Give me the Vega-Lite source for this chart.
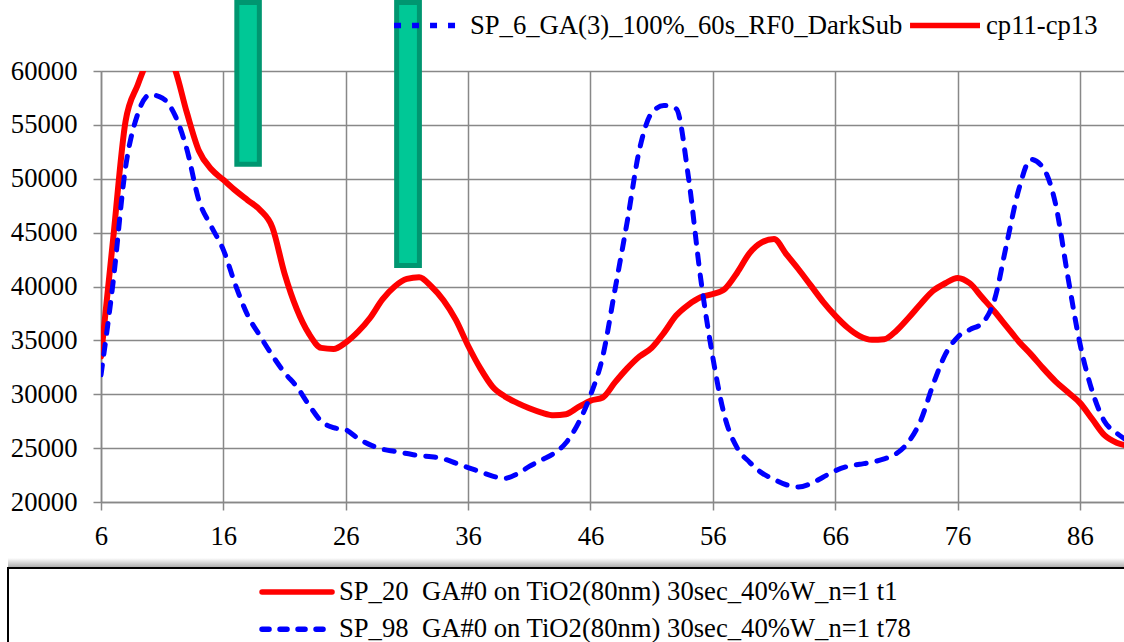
{
  "$schema": "https://vega.github.io/schema/vega-lite/v6.json",
  "padding": {"left": 7, "top": 0, "right": 0, "bottom": 0},
  "background": "white",
  "config": {
    "font": "Liberation Serif",
    "view": {"stroke": null},
    "axis": {
      "labelFont": "Liberation Serif",
      "labelFontSize": 26.67,
      "labelColor": "#000000",
      "gridColor": "#888888",
      "gridWidth": 1.5,
      "gridOpacity": 1,
      "domainColor": "#888888",
      "domainWidth": 1.5,
      "tickColor": "#888888",
      "tickWidth": 1.5,
      "tickSize": 8,
      "labelFlush": false,
      "labelOverlap": false,
      "title": null
    },
    "legend": {
      "labelFont": "Liberation Serif",
      "labelFontSize": 26.67,
      "labelColor": "#000000",
      "labelLimit": 1200
    }
  },
  "datasets": {
    "red": [
      {"x": 6, "y": 33500, "series": "SP_20\u00a0\u00a0GA#0 on TiO2(80nm) 30sec_40%W_n=1 t1"},
      {"x": 7, "y": 44500, "series": "SP_20\u00a0\u00a0GA#0 on TiO2(80nm) 30sec_40%W_n=1 t1"},
      {"x": 8, "y": 55300, "series": "SP_20\u00a0\u00a0GA#0 on TiO2(80nm) 30sec_40%W_n=1 t1"},
      {"x": 9, "y": 58700, "series": "SP_20\u00a0\u00a0GA#0 on TiO2(80nm) 30sec_40%W_n=1 t1"},
      {"x": 10, "y": 61300, "series": "SP_20\u00a0\u00a0GA#0 on TiO2(80nm) 30sec_40%W_n=1 t1"},
      {"x": 11, "y": 62000, "series": "SP_20\u00a0\u00a0GA#0 on TiO2(80nm) 30sec_40%W_n=1 t1"},
      {"x": 12, "y": 60300, "series": "SP_20\u00a0\u00a0GA#0 on TiO2(80nm) 30sec_40%W_n=1 t1"},
      {"x": 13, "y": 56200, "series": "SP_20\u00a0\u00a0GA#0 on TiO2(80nm) 30sec_40%W_n=1 t1"},
      {"x": 14, "y": 52600, "series": "SP_20\u00a0\u00a0GA#0 on TiO2(80nm) 30sec_40%W_n=1 t1"},
      {"x": 15, "y": 50900, "series": "SP_20\u00a0\u00a0GA#0 on TiO2(80nm) 30sec_40%W_n=1 t1"},
      {"x": 16, "y": 49900, "series": "SP_20\u00a0\u00a0GA#0 on TiO2(80nm) 30sec_40%W_n=1 t1"},
      {"x": 17, "y": 48900, "series": "SP_20\u00a0\u00a0GA#0 on TiO2(80nm) 30sec_40%W_n=1 t1"},
      {"x": 18, "y": 48000, "series": "SP_20\u00a0\u00a0GA#0 on TiO2(80nm) 30sec_40%W_n=1 t1"},
      {"x": 19, "y": 47100, "series": "SP_20\u00a0\u00a0GA#0 on TiO2(80nm) 30sec_40%W_n=1 t1"},
      {"x": 20, "y": 45500, "series": "SP_20\u00a0\u00a0GA#0 on TiO2(80nm) 30sec_40%W_n=1 t1"},
      {"x": 21, "y": 41200, "series": "SP_20\u00a0\u00a0GA#0 on TiO2(80nm) 30sec_40%W_n=1 t1"},
      {"x": 22, "y": 37900, "series": "SP_20\u00a0\u00a0GA#0 on TiO2(80nm) 30sec_40%W_n=1 t1"},
      {"x": 23, "y": 35600, "series": "SP_20\u00a0\u00a0GA#0 on TiO2(80nm) 30sec_40%W_n=1 t1"},
      {"x": 24, "y": 34300, "series": "SP_20\u00a0\u00a0GA#0 on TiO2(80nm) 30sec_40%W_n=1 t1"},
      {"x": 25, "y": 34200, "series": "SP_20\u00a0\u00a0GA#0 on TiO2(80nm) 30sec_40%W_n=1 t1"},
      {"x": 26, "y": 34800, "series": "SP_20\u00a0\u00a0GA#0 on TiO2(80nm) 30sec_40%W_n=1 t1"},
      {"x": 27, "y": 35800, "series": "SP_20\u00a0\u00a0GA#0 on TiO2(80nm) 30sec_40%W_n=1 t1"},
      {"x": 28, "y": 37100, "series": "SP_20\u00a0\u00a0GA#0 on TiO2(80nm) 30sec_40%W_n=1 t1"},
      {"x": 29, "y": 38800, "series": "SP_20\u00a0\u00a0GA#0 on TiO2(80nm) 30sec_40%W_n=1 t1"},
      {"x": 30, "y": 40000, "series": "SP_20\u00a0\u00a0GA#0 on TiO2(80nm) 30sec_40%W_n=1 t1"},
      {"x": 31, "y": 40700, "series": "SP_20\u00a0\u00a0GA#0 on TiO2(80nm) 30sec_40%W_n=1 t1"},
      {"x": 32, "y": 40850, "series": "SP_20\u00a0\u00a0GA#0 on TiO2(80nm) 30sec_40%W_n=1 t1"},
      {"x": 33, "y": 40000, "series": "SP_20\u00a0\u00a0GA#0 on TiO2(80nm) 30sec_40%W_n=1 t1"},
      {"x": 34, "y": 38700, "series": "SP_20\u00a0\u00a0GA#0 on TiO2(80nm) 30sec_40%W_n=1 t1"},
      {"x": 35, "y": 36900, "series": "SP_20\u00a0\u00a0GA#0 on TiO2(80nm) 30sec_40%W_n=1 t1"},
      {"x": 36, "y": 34500, "series": "SP_20\u00a0\u00a0GA#0 on TiO2(80nm) 30sec_40%W_n=1 t1"},
      {"x": 37, "y": 32400, "series": "SP_20\u00a0\u00a0GA#0 on TiO2(80nm) 30sec_40%W_n=1 t1"},
      {"x": 38, "y": 30700, "series": "SP_20\u00a0\u00a0GA#0 on TiO2(80nm) 30sec_40%W_n=1 t1"},
      {"x": 39, "y": 29800, "series": "SP_20\u00a0\u00a0GA#0 on TiO2(80nm) 30sec_40%W_n=1 t1"},
      {"x": 40, "y": 29200, "series": "SP_20\u00a0\u00a0GA#0 on TiO2(80nm) 30sec_40%W_n=1 t1"},
      {"x": 41, "y": 28700, "series": "SP_20\u00a0\u00a0GA#0 on TiO2(80nm) 30sec_40%W_n=1 t1"},
      {"x": 42, "y": 28300, "series": "SP_20\u00a0\u00a0GA#0 on TiO2(80nm) 30sec_40%W_n=1 t1"},
      {"x": 43, "y": 28050, "series": "SP_20\u00a0\u00a0GA#0 on TiO2(80nm) 30sec_40%W_n=1 t1"},
      {"x": 44, "y": 28150, "series": "SP_20\u00a0\u00a0GA#0 on TiO2(80nm) 30sec_40%W_n=1 t1"},
      {"x": 45, "y": 28800, "series": "SP_20\u00a0\u00a0GA#0 on TiO2(80nm) 30sec_40%W_n=1 t1"},
      {"x": 46, "y": 29400, "series": "SP_20\u00a0\u00a0GA#0 on TiO2(80nm) 30sec_40%W_n=1 t1"},
      {"x": 47, "y": 29700, "series": "SP_20\u00a0\u00a0GA#0 on TiO2(80nm) 30sec_40%W_n=1 t1"},
      {"x": 48, "y": 31100, "series": "SP_20\u00a0\u00a0GA#0 on TiO2(80nm) 30sec_40%W_n=1 t1"},
      {"x": 49, "y": 32400, "series": "SP_20\u00a0\u00a0GA#0 on TiO2(80nm) 30sec_40%W_n=1 t1"},
      {"x": 50, "y": 33500, "series": "SP_20\u00a0\u00a0GA#0 on TiO2(80nm) 30sec_40%W_n=1 t1"},
      {"x": 51, "y": 34300, "series": "SP_20\u00a0\u00a0GA#0 on TiO2(80nm) 30sec_40%W_n=1 t1"},
      {"x": 52, "y": 35700, "series": "SP_20\u00a0\u00a0GA#0 on TiO2(80nm) 30sec_40%W_n=1 t1"},
      {"x": 53, "y": 37300, "series": "SP_20\u00a0\u00a0GA#0 on TiO2(80nm) 30sec_40%W_n=1 t1"},
      {"x": 54, "y": 38300, "series": "SP_20\u00a0\u00a0GA#0 on TiO2(80nm) 30sec_40%W_n=1 t1"},
      {"x": 55, "y": 39000, "series": "SP_20\u00a0\u00a0GA#0 on TiO2(80nm) 30sec_40%W_n=1 t1"},
      {"x": 56, "y": 39300, "series": "SP_20\u00a0\u00a0GA#0 on TiO2(80nm) 30sec_40%W_n=1 t1"},
      {"x": 57, "y": 39800, "series": "SP_20\u00a0\u00a0GA#0 on TiO2(80nm) 30sec_40%W_n=1 t1"},
      {"x": 58, "y": 41300, "series": "SP_20\u00a0\u00a0GA#0 on TiO2(80nm) 30sec_40%W_n=1 t1"},
      {"x": 59, "y": 43100, "series": "SP_20\u00a0\u00a0GA#0 on TiO2(80nm) 30sec_40%W_n=1 t1"},
      {"x": 60, "y": 44100, "series": "SP_20\u00a0\u00a0GA#0 on TiO2(80nm) 30sec_40%W_n=1 t1"},
      {"x": 61, "y": 44400, "series": "SP_20\u00a0\u00a0GA#0 on TiO2(80nm) 30sec_40%W_n=1 t1"},
      {"x": 62, "y": 43000, "series": "SP_20\u00a0\u00a0GA#0 on TiO2(80nm) 30sec_40%W_n=1 t1"},
      {"x": 63, "y": 41600, "series": "SP_20\u00a0\u00a0GA#0 on TiO2(80nm) 30sec_40%W_n=1 t1"},
      {"x": 64, "y": 40100, "series": "SP_20\u00a0\u00a0GA#0 on TiO2(80nm) 30sec_40%W_n=1 t1"},
      {"x": 65, "y": 38600, "series": "SP_20\u00a0\u00a0GA#0 on TiO2(80nm) 30sec_40%W_n=1 t1"},
      {"x": 66, "y": 37300, "series": "SP_20\u00a0\u00a0GA#0 on TiO2(80nm) 30sec_40%W_n=1 t1"},
      {"x": 67, "y": 36200, "series": "SP_20\u00a0\u00a0GA#0 on TiO2(80nm) 30sec_40%W_n=1 t1"},
      {"x": 68, "y": 35400, "series": "SP_20\u00a0\u00a0GA#0 on TiO2(80nm) 30sec_40%W_n=1 t1"},
      {"x": 69, "y": 35050, "series": "SP_20\u00a0\u00a0GA#0 on TiO2(80nm) 30sec_40%W_n=1 t1"},
      {"x": 70, "y": 35100, "series": "SP_20\u00a0\u00a0GA#0 on TiO2(80nm) 30sec_40%W_n=1 t1"},
      {"x": 71, "y": 35900, "series": "SP_20\u00a0\u00a0GA#0 on TiO2(80nm) 30sec_40%W_n=1 t1"},
      {"x": 72, "y": 37100, "series": "SP_20\u00a0\u00a0GA#0 on TiO2(80nm) 30sec_40%W_n=1 t1"},
      {"x": 73, "y": 38400, "series": "SP_20\u00a0\u00a0GA#0 on TiO2(80nm) 30sec_40%W_n=1 t1"},
      {"x": 74, "y": 39600, "series": "SP_20\u00a0\u00a0GA#0 on TiO2(80nm) 30sec_40%W_n=1 t1"},
      {"x": 75, "y": 40300, "series": "SP_20\u00a0\u00a0GA#0 on TiO2(80nm) 30sec_40%W_n=1 t1"},
      {"x": 76, "y": 40800, "series": "SP_20\u00a0\u00a0GA#0 on TiO2(80nm) 30sec_40%W_n=1 t1"},
      {"x": 77, "y": 40300, "series": "SP_20\u00a0\u00a0GA#0 on TiO2(80nm) 30sec_40%W_n=1 t1"},
      {"x": 78, "y": 39000, "series": "SP_20\u00a0\u00a0GA#0 on TiO2(80nm) 30sec_40%W_n=1 t1"},
      {"x": 79, "y": 37700, "series": "SP_20\u00a0\u00a0GA#0 on TiO2(80nm) 30sec_40%W_n=1 t1"},
      {"x": 80, "y": 36300, "series": "SP_20\u00a0\u00a0GA#0 on TiO2(80nm) 30sec_40%W_n=1 t1"},
      {"x": 81, "y": 34900, "series": "SP_20\u00a0\u00a0GA#0 on TiO2(80nm) 30sec_40%W_n=1 t1"},
      {"x": 82, "y": 33700, "series": "SP_20\u00a0\u00a0GA#0 on TiO2(80nm) 30sec_40%W_n=1 t1"},
      {"x": 83, "y": 32400, "series": "SP_20\u00a0\u00a0GA#0 on TiO2(80nm) 30sec_40%W_n=1 t1"},
      {"x": 84, "y": 31200, "series": "SP_20\u00a0\u00a0GA#0 on TiO2(80nm) 30sec_40%W_n=1 t1"},
      {"x": 85, "y": 30200, "series": "SP_20\u00a0\u00a0GA#0 on TiO2(80nm) 30sec_40%W_n=1 t1"},
      {"x": 86, "y": 29200, "series": "SP_20\u00a0\u00a0GA#0 on TiO2(80nm) 30sec_40%W_n=1 t1"},
      {"x": 87, "y": 27700, "series": "SP_20\u00a0\u00a0GA#0 on TiO2(80nm) 30sec_40%W_n=1 t1"},
      {"x": 88, "y": 26200, "series": "SP_20\u00a0\u00a0GA#0 on TiO2(80nm) 30sec_40%W_n=1 t1"},
      {"x": 89, "y": 25500, "series": "SP_20\u00a0\u00a0GA#0 on TiO2(80nm) 30sec_40%W_n=1 t1"},
      {"x": 90, "y": 25200, "series": "SP_20\u00a0\u00a0GA#0 on TiO2(80nm) 30sec_40%W_n=1 t1"}
    ],
    "blue": [
      {"x": 6, "y": 31800, "series": "SP_98\u00a0\u00a0GA#0 on TiO2(80nm) 30sec_40%W_n=1 t78"},
      {"x": 7, "y": 40500, "series": "SP_98\u00a0\u00a0GA#0 on TiO2(80nm) 30sec_40%W_n=1 t78"},
      {"x": 8, "y": 51000, "series": "SP_98\u00a0\u00a0GA#0 on TiO2(80nm) 30sec_40%W_n=1 t78"},
      {"x": 9, "y": 56000, "series": "SP_98\u00a0\u00a0GA#0 on TiO2(80nm) 30sec_40%W_n=1 t78"},
      {"x": 10, "y": 57800, "series": "SP_98\u00a0\u00a0GA#0 on TiO2(80nm) 30sec_40%W_n=1 t78"},
      {"x": 11, "y": 57500, "series": "SP_98\u00a0\u00a0GA#0 on TiO2(80nm) 30sec_40%W_n=1 t78"},
      {"x": 12, "y": 56000, "series": "SP_98\u00a0\u00a0GA#0 on TiO2(80nm) 30sec_40%W_n=1 t78"},
      {"x": 13, "y": 52800, "series": "SP_98\u00a0\u00a0GA#0 on TiO2(80nm) 30sec_40%W_n=1 t78"},
      {"x": 14, "y": 48000, "series": "SP_98\u00a0\u00a0GA#0 on TiO2(80nm) 30sec_40%W_n=1 t78"},
      {"x": 15, "y": 45600, "series": "SP_98\u00a0\u00a0GA#0 on TiO2(80nm) 30sec_40%W_n=1 t78"},
      {"x": 16, "y": 43400, "series": "SP_98\u00a0\u00a0GA#0 on TiO2(80nm) 30sec_40%W_n=1 t78"},
      {"x": 17, "y": 40100, "series": "SP_98\u00a0\u00a0GA#0 on TiO2(80nm) 30sec_40%W_n=1 t78"},
      {"x": 18, "y": 37300, "series": "SP_98\u00a0\u00a0GA#0 on TiO2(80nm) 30sec_40%W_n=1 t78"},
      {"x": 19, "y": 35400, "series": "SP_98\u00a0\u00a0GA#0 on TiO2(80nm) 30sec_40%W_n=1 t78"},
      {"x": 20, "y": 33600, "series": "SP_98\u00a0\u00a0GA#0 on TiO2(80nm) 30sec_40%W_n=1 t78"},
      {"x": 21, "y": 32000, "series": "SP_98\u00a0\u00a0GA#0 on TiO2(80nm) 30sec_40%W_n=1 t78"},
      {"x": 22, "y": 30700, "series": "SP_98\u00a0\u00a0GA#0 on TiO2(80nm) 30sec_40%W_n=1 t78"},
      {"x": 23, "y": 29000, "series": "SP_98\u00a0\u00a0GA#0 on TiO2(80nm) 30sec_40%W_n=1 t78"},
      {"x": 24, "y": 27500, "series": "SP_98\u00a0\u00a0GA#0 on TiO2(80nm) 30sec_40%W_n=1 t78"},
      {"x": 25, "y": 26900, "series": "SP_98\u00a0\u00a0GA#0 on TiO2(80nm) 30sec_40%W_n=1 t78"},
      {"x": 26, "y": 26700, "series": "SP_98\u00a0\u00a0GA#0 on TiO2(80nm) 30sec_40%W_n=1 t78"},
      {"x": 27, "y": 25900, "series": "SP_98\u00a0\u00a0GA#0 on TiO2(80nm) 30sec_40%W_n=1 t78"},
      {"x": 28, "y": 25300, "series": "SP_98\u00a0\u00a0GA#0 on TiO2(80nm) 30sec_40%W_n=1 t78"},
      {"x": 29, "y": 24900, "series": "SP_98\u00a0\u00a0GA#0 on TiO2(80nm) 30sec_40%W_n=1 t78"},
      {"x": 30, "y": 24700, "series": "SP_98\u00a0\u00a0GA#0 on TiO2(80nm) 30sec_40%W_n=1 t78"},
      {"x": 31, "y": 24500, "series": "SP_98\u00a0\u00a0GA#0 on TiO2(80nm) 30sec_40%W_n=1 t78"},
      {"x": 32, "y": 24300, "series": "SP_98\u00a0\u00a0GA#0 on TiO2(80nm) 30sec_40%W_n=1 t78"},
      {"x": 33, "y": 24200, "series": "SP_98\u00a0\u00a0GA#0 on TiO2(80nm) 30sec_40%W_n=1 t78"},
      {"x": 34, "y": 24000, "series": "SP_98\u00a0\u00a0GA#0 on TiO2(80nm) 30sec_40%W_n=1 t78"},
      {"x": 35, "y": 23600, "series": "SP_98\u00a0\u00a0GA#0 on TiO2(80nm) 30sec_40%W_n=1 t78"},
      {"x": 36, "y": 23200, "series": "SP_98\u00a0\u00a0GA#0 on TiO2(80nm) 30sec_40%W_n=1 t78"},
      {"x": 37, "y": 22800, "series": "SP_98\u00a0\u00a0GA#0 on TiO2(80nm) 30sec_40%W_n=1 t78"},
      {"x": 38, "y": 22400, "series": "SP_98\u00a0\u00a0GA#0 on TiO2(80nm) 30sec_40%W_n=1 t78"},
      {"x": 39, "y": 22200, "series": "SP_98\u00a0\u00a0GA#0 on TiO2(80nm) 30sec_40%W_n=1 t78"},
      {"x": 40, "y": 22600, "series": "SP_98\u00a0\u00a0GA#0 on TiO2(80nm) 30sec_40%W_n=1 t78"},
      {"x": 41, "y": 23300, "series": "SP_98\u00a0\u00a0GA#0 on TiO2(80nm) 30sec_40%W_n=1 t78"},
      {"x": 42, "y": 23900, "series": "SP_98\u00a0\u00a0GA#0 on TiO2(80nm) 30sec_40%W_n=1 t78"},
      {"x": 43, "y": 24500, "series": "SP_98\u00a0\u00a0GA#0 on TiO2(80nm) 30sec_40%W_n=1 t78"},
      {"x": 44, "y": 25500, "series": "SP_98\u00a0\u00a0GA#0 on TiO2(80nm) 30sec_40%W_n=1 t78"},
      {"x": 45, "y": 27300, "series": "SP_98\u00a0\u00a0GA#0 on TiO2(80nm) 30sec_40%W_n=1 t78"},
      {"x": 46, "y": 29900, "series": "SP_98\u00a0\u00a0GA#0 on TiO2(80nm) 30sec_40%W_n=1 t78"},
      {"x": 47, "y": 33500, "series": "SP_98\u00a0\u00a0GA#0 on TiO2(80nm) 30sec_40%W_n=1 t78"},
      {"x": 48, "y": 39700, "series": "SP_98\u00a0\u00a0GA#0 on TiO2(80nm) 30sec_40%W_n=1 t78"},
      {"x": 49, "y": 46000, "series": "SP_98\u00a0\u00a0GA#0 on TiO2(80nm) 30sec_40%W_n=1 t78"},
      {"x": 50, "y": 52700, "series": "SP_98\u00a0\u00a0GA#0 on TiO2(80nm) 30sec_40%W_n=1 t78"},
      {"x": 51, "y": 56100, "series": "SP_98\u00a0\u00a0GA#0 on TiO2(80nm) 30sec_40%W_n=1 t78"},
      {"x": 52, "y": 56800, "series": "SP_98\u00a0\u00a0GA#0 on TiO2(80nm) 30sec_40%W_n=1 t78"},
      {"x": 53, "y": 56500, "series": "SP_98\u00a0\u00a0GA#0 on TiO2(80nm) 30sec_40%W_n=1 t78"},
      {"x": 54, "y": 50200, "series": "SP_98\u00a0\u00a0GA#0 on TiO2(80nm) 30sec_40%W_n=1 t78"},
      {"x": 55, "y": 40800, "series": "SP_98\u00a0\u00a0GA#0 on TiO2(80nm) 30sec_40%W_n=1 t78"},
      {"x": 56, "y": 33400, "series": "SP_98\u00a0\u00a0GA#0 on TiO2(80nm) 30sec_40%W_n=1 t78"},
      {"x": 57, "y": 27800, "series": "SP_98\u00a0\u00a0GA#0 on TiO2(80nm) 30sec_40%W_n=1 t78"},
      {"x": 58, "y": 25000, "series": "SP_98\u00a0\u00a0GA#0 on TiO2(80nm) 30sec_40%W_n=1 t78"},
      {"x": 59, "y": 23700, "series": "SP_98\u00a0\u00a0GA#0 on TiO2(80nm) 30sec_40%W_n=1 t78"},
      {"x": 60, "y": 22700, "series": "SP_98\u00a0\u00a0GA#0 on TiO2(80nm) 30sec_40%W_n=1 t78"},
      {"x": 61, "y": 22100, "series": "SP_98\u00a0\u00a0GA#0 on TiO2(80nm) 30sec_40%W_n=1 t78"},
      {"x": 62, "y": 21600, "series": "SP_98\u00a0\u00a0GA#0 on TiO2(80nm) 30sec_40%W_n=1 t78"},
      {"x": 63, "y": 21400, "series": "SP_98\u00a0\u00a0GA#0 on TiO2(80nm) 30sec_40%W_n=1 t78"},
      {"x": 64, "y": 21700, "series": "SP_98\u00a0\u00a0GA#0 on TiO2(80nm) 30sec_40%W_n=1 t78"},
      {"x": 65, "y": 22300, "series": "SP_98\u00a0\u00a0GA#0 on TiO2(80nm) 30sec_40%W_n=1 t78"},
      {"x": 66, "y": 22900, "series": "SP_98\u00a0\u00a0GA#0 on TiO2(80nm) 30sec_40%W_n=1 t78"},
      {"x": 67, "y": 23300, "series": "SP_98\u00a0\u00a0GA#0 on TiO2(80nm) 30sec_40%W_n=1 t78"},
      {"x": 68, "y": 23500, "series": "SP_98\u00a0\u00a0GA#0 on TiO2(80nm) 30sec_40%W_n=1 t78"},
      {"x": 69, "y": 23700, "series": "SP_98\u00a0\u00a0GA#0 on TiO2(80nm) 30sec_40%W_n=1 t78"},
      {"x": 70, "y": 24000, "series": "SP_98\u00a0\u00a0GA#0 on TiO2(80nm) 30sec_40%W_n=1 t78"},
      {"x": 71, "y": 24500, "series": "SP_98\u00a0\u00a0GA#0 on TiO2(80nm) 30sec_40%W_n=1 t78"},
      {"x": 72, "y": 25600, "series": "SP_98\u00a0\u00a0GA#0 on TiO2(80nm) 30sec_40%W_n=1 t78"},
      {"x": 73, "y": 27600, "series": "SP_98\u00a0\u00a0GA#0 on TiO2(80nm) 30sec_40%W_n=1 t78"},
      {"x": 74, "y": 30900, "series": "SP_98\u00a0\u00a0GA#0 on TiO2(80nm) 30sec_40%W_n=1 t78"},
      {"x": 75, "y": 33700, "series": "SP_98\u00a0\u00a0GA#0 on TiO2(80nm) 30sec_40%W_n=1 t78"},
      {"x": 76, "y": 35300, "series": "SP_98\u00a0\u00a0GA#0 on TiO2(80nm) 30sec_40%W_n=1 t78"},
      {"x": 77, "y": 36000, "series": "SP_98\u00a0\u00a0GA#0 on TiO2(80nm) 30sec_40%W_n=1 t78"},
      {"x": 78, "y": 36600, "series": "SP_98\u00a0\u00a0GA#0 on TiO2(80nm) 30sec_40%W_n=1 t78"},
      {"x": 79, "y": 38700, "series": "SP_98\u00a0\u00a0GA#0 on TiO2(80nm) 30sec_40%W_n=1 t78"},
      {"x": 80, "y": 43900, "series": "SP_98\u00a0\u00a0GA#0 on TiO2(80nm) 30sec_40%W_n=1 t78"},
      {"x": 81, "y": 49000, "series": "SP_98\u00a0\u00a0GA#0 on TiO2(80nm) 30sec_40%W_n=1 t78"},
      {"x": 82, "y": 51800, "series": "SP_98\u00a0\u00a0GA#0 on TiO2(80nm) 30sec_40%W_n=1 t78"},
      {"x": 83, "y": 51000, "series": "SP_98\u00a0\u00a0GA#0 on TiO2(80nm) 30sec_40%W_n=1 t78"},
      {"x": 84, "y": 47700, "series": "SP_98\u00a0\u00a0GA#0 on TiO2(80nm) 30sec_40%W_n=1 t78"},
      {"x": 85, "y": 41000, "series": "SP_98\u00a0\u00a0GA#0 on TiO2(80nm) 30sec_40%W_n=1 t78"},
      {"x": 86, "y": 34700, "series": "SP_98\u00a0\u00a0GA#0 on TiO2(80nm) 30sec_40%W_n=1 t78"},
      {"x": 87, "y": 30300, "series": "SP_98\u00a0\u00a0GA#0 on TiO2(80nm) 30sec_40%W_n=1 t78"},
      {"x": 88, "y": 27500, "series": "SP_98\u00a0\u00a0GA#0 on TiO2(80nm) 30sec_40%W_n=1 t78"},
      {"x": 89, "y": 26400, "series": "SP_98\u00a0\u00a0GA#0 on TiO2(80nm) 30sec_40%W_n=1 t78"},
      {"x": 90, "y": 25600, "series": "SP_98\u00a0\u00a0GA#0 on TiO2(80nm) 30sec_40%W_n=1 t78"}
    ],
    "bars": [
      {"x0": 17.1, "x1": 18.94, "low": 51350, "high": 66350},
      {"x0": 30.16, "x1": 32.02, "low": 41960, "high": 66350}
    ],
    "legend2": [
      {"name": "SP_6_GA(3)_100%_60s_RF0_DarkSub"},
      {"name": "cp11-cp13"}
    ]
  },
  "vconcat": [
    {
      "hconcat": [
        {
          "width": 93,
          "height": 431,
          "data": {"values": [{"spacer": 1}]},
          "mark": {"type": "point", "opacity": 0},
          "encoding": {}
        },
        {
          "width": 1023,
          "height": 431,
          "layer": [
            {
              "data": {"name": "red"},
              "mark": {"type": "line", "interpolate": "monotone", "strokeWidth": 6, "clip": true, "strokeCap": "round", "strokeJoin": "round"},
              "encoding": {
                "x": {
                  "field": "x", "type": "quantitative",
                  "scale": {"domain": [6, 89.6], "nice": false, "zero": false},
                  "axis": {"values": [6, 16, 26, 36, 46, 56, 66, 76, 86], "labelPadding": 13, "grid": true}
                },
                "y": {
                  "field": "y", "type": "quantitative",
                  "scale": {"domain": [20000, 60000], "nice": false, "zero": false},
                  "axis": {"values": [20000, 25000, 30000, 35000, 40000, 45000, 50000, 55000, 60000], "format": "d", "labelPadding": 16, "minExtent": 93, "grid": true}
                },
                "color": {
                  "field": "series", "type": "nominal",
                  "scale": {
                    "domain": ["SP_20\u00a0\u00a0GA#0 on TiO2(80nm) 30sec_40%W_n=1 t1", "SP_98\u00a0\u00a0GA#0 on TiO2(80nm) 30sec_40%W_n=1 t78"],
                    "range": ["#FF0000", "#0000FF"]
                  },
                  "legend": {
                    "title": null,
                    "orient": "none",
                    "legendX": 275.7,
                    "legendY": 507.7,
                    "direction": "vertical",
                    "symbolType": "M-7,0H7",
                    "symbolSize": 100,
                    "symbolStrokeWidth": 5.5,
                    "labelOffset": 28.6,
                    "rowPadding": 9.3,
                    "encode": {
                      "symbols": {
                        "update": {
                          "strokeDash": {"signal": "datum.value === 'SP_20\u00a0\u00a0GA#0 on TiO2(80nm) 30sec_40%W_n=1 t1' ? [1, 0] : [7, 11]"},
                          "strokeCap": {"value": "round"}
                        }
                      }
                    }
                  }
                }
              }
            },
            {
              "data": {"name": "blue"},
              "mark": {"type": "line", "interpolate": "monotone", "strokeWidth": 5, "clip": true, "strokeDash": [10, 11], "strokeCap": "round"},
              "encoding": {
                "x": {"field": "x", "type": "quantitative"},
                "y": {"field": "y", "type": "quantitative"},
                "color": {"field": "series", "type": "nominal"}
              }
            },
            {
              "data": {"name": "legend2"},
              "mark": {"type": "point", "opacity": 0},
              "encoding": {
                "stroke": {
                  "field": "name", "type": "nominal",
                  "scale": {"domain": ["SP_6_GA(3)_100%_60s_RF0_DarkSub", "cp11-cp13"], "range": ["#0000FF", "#FF0000"]},
                  "legend": {
                    "title": null,
                    "orient": "none",
                    "legendX": 407.7,
                    "legendY": -59.3,
                    "direction": "horizontal",
                    "symbolType": "M-7,0H7",
                    "symbolSize": 100,
                    "symbolStrokeWidth": 5.5,
                    "symbolOpacity": 1,
                    "labelOffset": 27.6,
                    "columnPadding": -4,
                    "zindex": -1,
                    "encode": {
                      "symbols": {
                        "update": {
                          "opacity": {"value": 1},
                          "strokeCap": {"value": "round"}
                        }
                      }
                    }
                  }
                },
                "strokeDash": {
                  "field": "name", "type": "nominal",
                  "scale": {"domain": ["SP_6_GA(3)_100%_60s_RF0_DarkSub", "cp11-cp13"], "range": [[7, 11], [1, 0]]}
                }
              }
            },
            {
              "data": {"name": "bars"},
              "mark": {"type": "rect", "fill": "#00C896", "stroke": "#009670", "strokeWidth": 5, "clip": false},
              "encoding": {
                "x": {"field": "x0", "type": "quantitative"},
                "x2": {"field": "x1"},
                "y": {"field": "low", "type": "quantitative"},
                "y2": {"field": "high"}
              }
            }
          ]
        }
      ],
      "spacing": 0,
      "bounds": "flush"
    },
    {
      "vconcat": [
        {
          "width": 1118,
          "height": 10,
          "view": {
            "stroke": null,
            "fill": {
              "gradient": "linear",
              "x1": 0, "y1": 0, "x2": 0, "y2": 1,
              "stops": [
                {"offset": 0, "color": "#ffffff"},
                {"offset": 1, "color": "#a6a6a6"}
              ]
            }
          },
          "data": {"values": [{"shade": 1}]},
          "mark": {"type": "point", "opacity": 0},
          "encoding": {}
        },
        {
          "width": 1118,
          "height": 75,
          "view": {"stroke": "#000000", "strokeWidth": 2},
          "data": {"values": [{"box": 1}]},
          "mark": {"type": "point", "opacity": 0},
          "encoding": {}
        }
      ],
      "spacing": 0,
      "bounds": "flush"
    }
  ],
  "spacing": 487,
  "bounds": "flush"
}
